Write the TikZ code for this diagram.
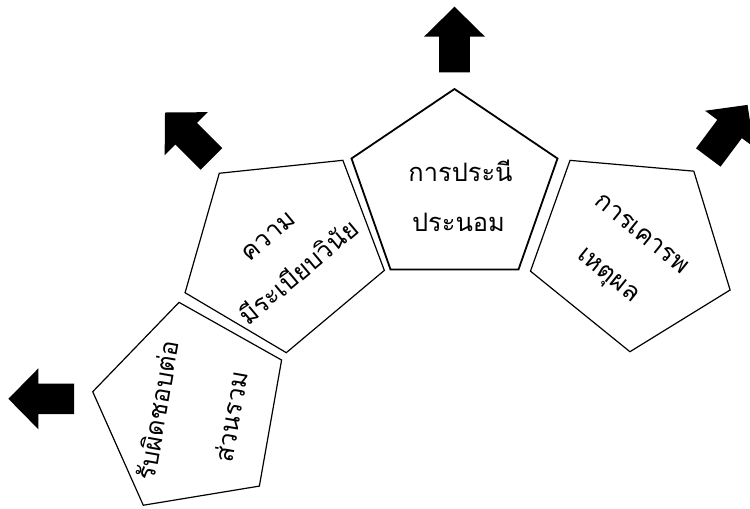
\documentclass[tikz,border=0pt]{standalone}
\usepackage{fontspec}
\newfontfamily\thaifont[Script=Thai]{Loma}
\begin{document}
\begin{tikzpicture}[x=1bp,y=-1bp,
  thaitext/.style={font=\thaifont\fontsize{25.5}{30}\selectfont, inner sep=0pt, anchor=base},
  blockarrow/.pic={\fill[black] (-15.3,0) -- (-15.3,-35.6) -- (-30.5,-35.6) -- (0,-65.6) -- (30.5,-35.6) -- (15.3,-35.6) -- (15.3,0) -- cycle;},
  pentshape/.pic={\draw[line join=miter] (0,-90.25) -- (103,-20.75) -- (64,90.25) -- (-64,90.25) -- (-103,-20.75) -- cycle;}
]
\useasboundingbox (0,0) rectangle (750,509);
\fill[white] (0,0) rectangle (750,509);

% pentagons
\pic[line width=1.8bp] at (454.5,179.25) {pentshape};
\pic[line width=1.2bp, rotate=40] at (277.3,242.4) {pentshape};
\pic[line width=1.2bp, rotate=-39] at (637,241.3) {pentshape};
\pic[line width=1.2bp, rotate=80] at (181.6,407.4) {pentshape};

% arrows
\pic at (454.5,72.3) {blockarrow};
\pic[rotate=45] at (211.4,158.9) {blockarrow};
\pic[rotate=-36.7] at (708.3,157.5) {blockarrow};
\pic[rotate=90] at (74,398.8) {blockarrow};

% texts
\node[thaitext] (c1) at (460.5,181.7) {การประนี};
\node[thaitext] (c2) at (458.5,231.7) {ประนอม};
\node[thaitext, rotate=40] (l1) at (273.1,242.0) {ความ};
\node[thaitext, rotate=40] (l2) at (304.4,279.3) {มีระเบียบวินัย};
\node[thaitext, rotate=-39] (r1) at (637.3,239.3) {การเคารพ};
\node[thaitext, rotate=-39] (r2) at (604.2,280.2) {เหตุผล};
\node[thaitext, rotate=80] (b1) at (167.2,411.9) {รับผิดชอบต่อ};
\node[thaitext, rotate=80] (b2) at (240.5,418.6) {ส่วนรวม};
\end{tikzpicture}
\end{document}
